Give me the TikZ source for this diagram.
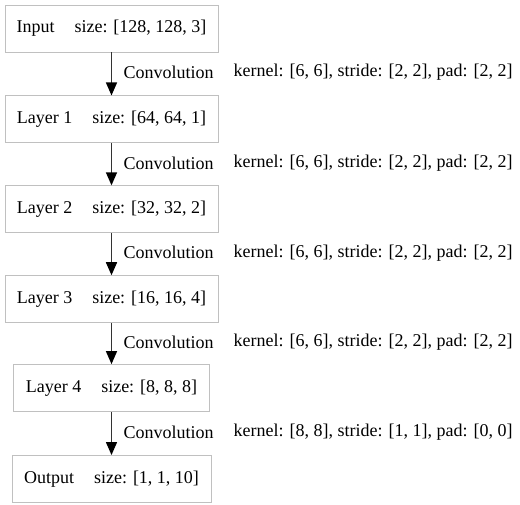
\documentclass[tikz,border=0pt]{standalone}
\usepackage{fontspec}
\setmainfont{Liberation Serif}
\usetikzlibrary{arrows.meta,positioning}
\definecolor{boxline}{RGB}{192,192,192}
\definecolor{edgec}{RGB}{51,51,51}
\newcommand{\gap}{\hspace{20pt}}

\begin{document}
\begin{tikzpicture}[x=1pt,y=1pt,font=\fontsize{18}{20}\selectfont,>={Triangle[length=13pt,width=11pt,black]},
  layer/.style={draw=boxline,line width=0.9pt,minimum height=47pt,inner sep=0pt},
  conv/.style={->,edgec,line width=1.4pt},
  lbl/.style={anchor=west,inner sep=0pt}]
  \useasboundingbox (0,0) rectangle (520,-505);
  \node[layer,minimum width=213pt] (in) at (111.5,-28.5) {Input\gap size: [128, 128, 3]};
  \node[layer,minimum width=213pt,below=43pt of in] (l1) {Layer 1\gap size: [64, 64, 1]};
  \node[layer,minimum width=213pt,below=42pt of l1] (l2) {Layer 2\gap size: [32, 32, 2]};
  \node[layer,minimum width=213pt,below=42pt of l2] (l3) {Layer 3\gap size: [16, 16, 4]};
  \node[layer,minimum width=196pt,below=41pt of l3] (l4) {Layer 4\gap size: [8, 8, 8]};
  \node[layer,minimum width=199pt,below=43pt of l4] (out) {Output\gap size: [1, 1, 10]};
  % connectors
  \draw[conv] (in) -- (l1) coordinate[midway] (m1);
  \draw[conv] (l1) -- (l2) coordinate[midway] (m2);
  \draw[conv] (l2) -- (l3) coordinate[midway] (m3);
  \draw[conv] (l3) -- (l4) coordinate[midway] (m4);
  \draw[conv] (l4) -- (out) coordinate[midway] (m5);
  % edge labels
  \node[lbl] (c1) at ([shift={(12pt,1.5pt)}]m1) {Convolution};
  \node[lbl] (k1) at ([shift={(122pt,1.5pt)}]m1) {kernel: [6, 6], stride: [2, 2], pad: [2, 2]};
  \node[lbl] (c2) at ([shift={(12pt,1.5pt)}]m2) {Convolution};
  \node[lbl] (k2) at ([shift={(122pt,1.5pt)}]m2) {kernel: [6, 6], stride: [2, 2], pad: [2, 2]};
  \node[lbl] (c3) at ([shift={(12pt,1.5pt)}]m3) {Convolution};
  \node[lbl] (k3) at ([shift={(122pt,1.5pt)}]m3) {kernel: [6, 6], stride: [2, 2], pad: [2, 2]};
  \node[lbl] (c4) at ([shift={(12pt,1.5pt)}]m4) {Convolution};
  \node[lbl] (k4) at ([shift={(122pt,1.5pt)}]m4) {kernel: [6, 6], stride: [2, 2], pad: [2, 2]};
  \node[lbl] (c5) at ([shift={(12pt,1.5pt)}]m5) {Convolution};
  \node[lbl] (k5) at ([shift={(122pt,1.5pt)}]m5) {kernel: [8, 8], stride: [1, 1], pad: [0, 0]};
\end{tikzpicture}
\end{document}
